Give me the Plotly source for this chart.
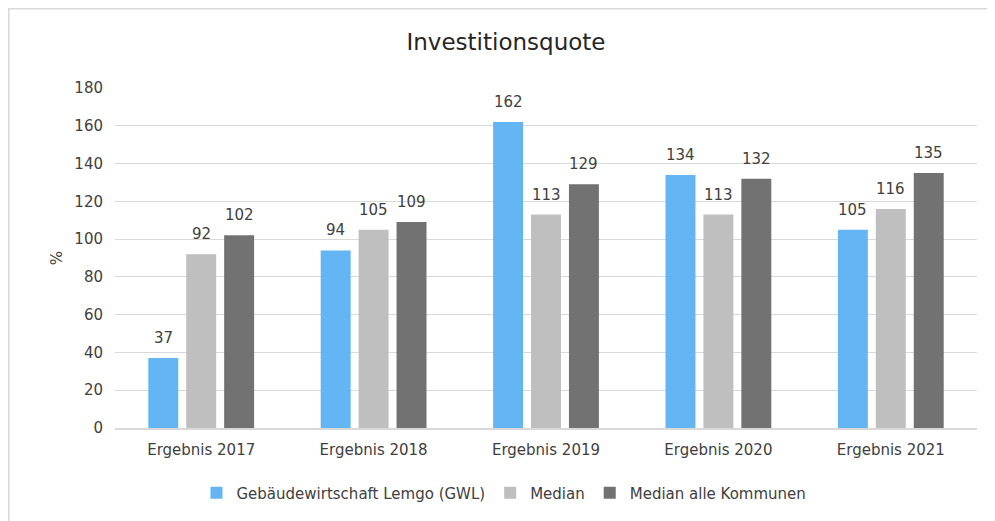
import plotly.graph_objects as go

categories = ["Ergebnis 2017", "Ergebnis 2018", "Ergebnis 2019", "Ergebnis 2020", "Ergebnis 2021"]
gwl = [37, 94, 162, 134, 105]
median = [92, 105, 113, 113, 116]
median_alle = [102, 109, 129, 132, 135]
series_names = ["Gebäudewirtschaft Lemgo (GWL)", "Median", "Median alle Kommunen"]
colors = ["#63B5F4", "#BFBFBF", "#727272"]
y_ticks = list(range(0, 181, 20))

FONT = "DejaVu Sans"
TXT = "#404040"
FS = 15

W, H = 995, 521
ml, mr, mt, mb = 107, 26, 80, 101
pw, ph = W - ml - mr, H - mt - mb
BARGAP, GROUPGAP = 0.34, 0.21

fig = go.Figure()
series = [gwl, median, median_alle]
for name, vals, col in zip(series_names, series, colors):
    fig.add_trace(go.Bar(x=categories, y=vals, name=name, marker_color=col, marker_line_width=0))

# data labels placed above each bar
slot = pw / len(categories) * (1 - BARGAP) / len(series)
for i, vals in enumerate(series):
    dx = (i - (len(series) - 1) / 2) * slot
    for c, v in zip(categories, vals):
        fig.add_annotation(x=c, y=v, text=str(v), showarrow=False, xshift=dx, yshift=9,
                           yanchor="bottom", font=dict(family=FONT, size=FS, color=TXT))

fig.update_layout(
    width=W, height=H,
    margin=dict(l=ml, r=mr, t=mt, b=mb),
    paper_bgcolor="white", plot_bgcolor="white",
    barmode="group", bargap=BARGAP, bargroupgap=GROUPGAP,
    title=dict(text="Investitionsquote", x=0.5005, xanchor="center", y=1 - 34 / H, yanchor="middle",
               font=dict(family=FONT, size=23, color="#262626")),
    font=dict(family=FONT, size=FS, color=TXT),
    legend=dict(orientation="h", x=0.5 - 42 / pw, xanchor="center", y=(ph - (485 - mt)) / ph, yanchor="middle",
                font=dict(family=FONT, size=FS, color=TXT), itemwidth=30, traceorder="normal"),
    showlegend=True,
)
fig.update_yaxes(range=[0, 180], tickvals=y_ticks, showgrid=True, gridcolor="#D9D9D9", gridwidth=1,
                 zeroline=False, showline=False, ticks="", ticklabelstandoff=11,
                 title=dict(text="%", font=dict(family=FONT, size=FS, color=TXT), standoff=8),
                 tickfont=dict(family=FONT, size=FS, color=TXT))
fig.update_xaxes(showline=True, linecolor="#D9D9D9", linewidth=2, ticks="", ticklabelstandoff=7,
                 tickfont=dict(family=FONT, size=FS, color=TXT))

# outer chart border
fig.add_shape(type="rect", xref="paper", yref="paper",
              x0=(0.75 - ml) / pw, x1=(W + 10 - ml) / pw,
              y0=-(mb + 10) / ph, y1=(ph + mt - 0.75) / ph,
              line=dict(color="#D9D9D9", width=1.5), fillcolor="rgba(0,0,0,0)", layer="below")

fig.write_html("out.html")
